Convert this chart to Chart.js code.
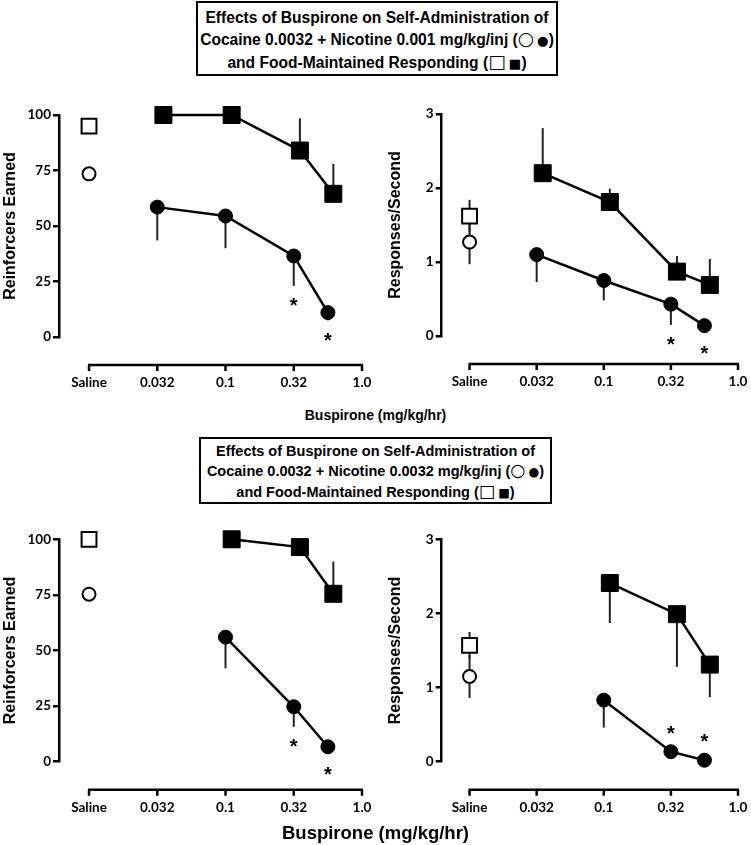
<!DOCTYPE html>
<html>
<head>
<meta charset="utf-8">
<script src="https://cdn.jsdelivr.net/npm/chart.js@4/dist/chart.umd.min.js"></script>
<style>
  body { margin: 0; background: #fff; }
  #page { position: relative; width: 751px; height: 845px; overflow: hidden; font-family: "Liberation Sans", Arial, sans-serif; color: #000; }
  canvas { position: absolute; }
  .box { position: absolute; box-sizing: border-box; border: 2px solid #000; text-align: center; font-weight: bold; white-space: nowrap; }
  .box .open { font-family: "DejaVu Sans", sans-serif; font-size: 1.2em; font-weight: bold; }
  .box .full { font-family: "DejaVu Sans", sans-serif; font-size: 0.85em; font-weight: normal; margin-left: 3px; }
  .xtitle { position: absolute; left: 0; width: 751px; text-align: center; font-weight: bold; white-space: nowrap; }
</style>
</head>
<body>
<div id="page">
  <div class="box" style="left:196px; top:1px; width:362px; height:75px; font-size:15.6px; line-height:21px; padding-top:3.5px;">
    Effects of Buspirone on Self-Administration of<br>
    Cocaine 0.0032 + Nicotine 0.001 mg/kg/inj (<span class="open">○</span><span class="full">●</span>)<br>
    and Food-Maintained Responding (<span class="open">□</span><span class="full">■</span>)
  </div>
  <canvas id="tl" width="375" height="310" style="left:0; top:95px;"></canvas>
  <canvas id="tr" width="376" height="310" style="left:375px; top:95px;"></canvas>
  <div class="xtitle" style="top:405px; height:20px; line-height:20px; font-size:14px;">Buspirone (mg/kg/hr)</div>

  <div class="box" style="left:199px; top:437px; width:353px; height:67px; font-size:14.5px; line-height:19px; padding-top:3px;">
    Effects of Buspirone on Self-Administration of<br>
    Cocaine 0.0032 + Nicotine 0.0032 mg/kg/inj (<span class="open">○</span><span class="full">●</span>)<br>
    and Food-Maintained Responding (<span class="open">□</span><span class="full">■</span>)
  </div>
  <canvas id="bl" width="375" height="310" style="left:0; top:520px;"></canvas>
  <canvas id="br" width="376" height="310" style="left:375px; top:520px;"></canvas>
  <div class="xtitle" style="top:820px; height:26px; line-height:26px; font-size:18.5px;">Buspirone (mg/kg/hr)</div>
</div>

<script>
// x axis: Saline = 0, then one unit per half log step (0.032 = 1, 0.1 = 2, 0.32 = 3, 1.0 = 4)
const xTickLabels = ['Saline', '0.032', '0.1', '0.32', '1.0'];

// cocaine 0.0032 + nicotine 0.001 (top row)
const topDrugX = [1, 2, 3, 3.5];
const topFoodX = [1.09, 2.09, 3.09, 3.58];
const topDrugReinf = [58.5, 54.5, 36.5, 11];
const topDrugReinfSem = [15, 14.5, 13.5, 3.5];
const topFoodReinf = [100, 100, 84, 64.5];
const topFoodReinfSem = [0, 0, 14.5, 13.5];
const topSalineReinf = [73.5, 95];       // [drug, food]
const topSalineReinfSem = [0, 0];
const topDrugRate = [1.1, 0.75, 0.43, 0.14];
const topDrugRateSem = [0.37, 0.27, 0.28, 0];
const topFoodRate = [2.2, 1.81, 0.87, 0.69];
const topFoodRateSem = [0.61, 0.18, 0.21, 0.35];
const topSalineRate = [1.27, 1.62];
const topSalineRateSem = [0.3, 0.22];
const topSig = [false, false, true, true];

// cocaine 0.0032 + nicotine 0.0032 (bottom row)
const bottomDrugX = [2, 3, 3.5];
const bottomFoodX = [2.09, 3.09, 3.58];
const bottomDrugReinf = [56, 24.7, 6.7];
const bottomDrugReinfSem = [14, 9, 0];
const bottomFoodReinf = [100, 96.5, 75.5];
const bottomFoodReinfSem = [0, 0, 14.5];
const bottomSalineReinf = [75.3, 100];
const bottomSalineReinfSem = [0, 0];
const bottomDrugRate = [0.83, 0.135, 0.02];
const bottomDrugRateSem = [0.37, 0, 0];
const bottomFoodRate = [2.41, 1.99, 1.31];
const bottomFoodRateSem = [0.54, 0.71, 0.44];
const bottomSalineRate = [1.15, 1.57];
const bottomSalineRateSem = [0.29, 0.18];
const bottomSig = [false, true, true];

const tickFont = { family: 'Lato, "Liberation Sans", sans-serif', weight: 'bold', size: 13.5 };
const titleFont = { family: '"Liberation Sans", Arial, sans-serif', weight: 'bold', size: 16 };

const pts = (xs, ys) => xs.map((x, i) => ({ x: x, y: ys[i] }));

// one-sided / two-sided sem bars, drawn under the markers
const errorBars = {
  id: 'errorBars',
  beforeDatasetsDraw(chart) {
    const { ctx, scales: { x, y } } = chart;
    ctx.save();
    ctx.strokeStyle = '#222';
    ctx.lineWidth = 2;
    chart.data.datasets.forEach(ds => {
      ds.data.forEach((p, i) => {
        const up = ds.errUp ? ds.errUp[i] : 0;
        const down = ds.errDown ? ds.errDown[i] : 0;
        if (!up && !down) return;
        const px = x.getPixelForValue(p.x);
        ctx.beginPath();
        ctx.moveTo(px, y.getPixelForValue(p.y + up));
        ctx.lineTo(px, y.getPixelForValue(p.y - down));
        ctx.stroke();
      });
    });
    ctx.restore();
  }
};

// asterisks for significant points
const stars = {
  id: 'stars',
  afterDatasetsDraw(chart) {
    const { ctx, scales: { x, y } } = chart;
    ctx.save();
    ctx.font = 'bold 20px "Liberation Sans", Arial, sans-serif';
    ctx.fillStyle = '#000';
    ctx.textAlign = 'center';
    ctx.textBaseline = 'alphabetic';
    chart.data.datasets.forEach(ds => {
      if (!ds.sig) return;
      ds.data.forEach((p, i) => {
        if (!ds.sig[i]) return;
        const px = x.getPixelForValue(p.x);
        const py = y.getPixelForValue(p.y);
        const down = ds.errDown ? ds.errDown[i] : 0;
        const cy = ds.starAbove ? py - 23 : Math.max(y.getPixelForValue(p.y - down), py + 8) + 15;
        ctx.fillText('*', px, cy + 11);
      });
    });
    ctx.restore();
  }
};

// detached x axis from Saline to 1.0
const xAxisLine = {
  id: 'xAxisLine',
  afterDraw(chart) {
    const { ctx, chartArea, scales: { x } } = chart;
    const yLine = chartArea.bottom + 28;
    ctx.save();
    ctx.strokeStyle = '#000';
    ctx.lineWidth = 2.5;
    ctx.beginPath();
    ctx.moveTo(x.getPixelForValue(0) - 1, yLine);
    ctx.lineTo(x.getPixelForValue(xTickLabels.length - 1) + 1, yLine);
    xTickLabels.forEach((_, i) => {
      const px = x.getPixelForValue(i);
      ctx.moveTo(px, yLine);
      ctx.lineTo(px, yLine + 6);
    });
    ctx.stroke();
    ctx.restore();
  }
};

function makePanel(id, p) {
  const ctx = document.getElementById(id).getContext('2d');
  return new Chart(ctx, {
    type: 'scatter',
    data: {
      datasets: [
        {
          data: pts(p.foodX, p.food), errUp: p.foodUp, errDown: p.foodDown,
          showLine: true, borderColor: '#000', borderWidth: 2.5,
          pointStyle: 'rect', pointRadius: 12, pointBackgroundColor: '#000',
          pointBorderColor: '#000', pointBorderWidth: 1, clip: false
        },
        {
          data: pts(p.drugX, p.drug), errDown: p.drugDown, sig: p.sig, starAbove: p.starAbove,
          showLine: true, borderColor: '#000', borderWidth: 2.5,
          pointStyle: 'circle', pointRadius: 7, pointBackgroundColor: '#000',
          pointBorderColor: '#000', pointBorderWidth: 1, clip: false
        },
        {
          data: [{ x: 0, y: p.saline[1] }], errUp: [p.salineSem[1]], errDown: [p.salineSem[1]],
          pointStyle: 'rect', pointRadius: 10.5, pointBackgroundColor: '#fff',
          pointBorderColor: '#000', pointBorderWidth: 2, clip: false
        },
        {
          data: [{ x: 0, y: p.saline[0] }], errUp: [p.salineSem[0]], errDown: [p.salineSem[0]],
          pointStyle: 'circle', pointRadius: 6.5, pointBackgroundColor: '#fff',
          pointBorderColor: '#000', pointBorderWidth: 2, clip: false
        }
      ]
    },
    options: {
      responsive: false,
      animation: false,
      devicePixelRatio: 1,
      layout: { padding: { top: p.padTop, right: p.padRight, left: 0, bottom: 0 } },
      plugins: { legend: { display: false }, tooltip: { enabled: false } },
      scales: {
        x: {
          type: 'linear', min: p.xMin, max: xTickLabels.length - 1,
          afterBuildTicks: s => { s.ticks = xTickLabels.map((_, i) => ({ value: i })); },
          afterFit: s => { s.height = p.xHeight; s.paddingLeft = 0; s.paddingRight = 0; },
          grid: { display: false, drawTicks: false },
          border: { display: false },
          ticks: {
            callback: v => xTickLabels[v], autoSkip: false, maxRotation: 0,
            padding: 38, font: tickFont, color: '#000'
          }
        },
        y: {
          type: 'linear', min: 0, max: p.yMax,
          afterFit: s => { s.width = p.yWidth; },
          grid: { drawOnChartArea: false, drawTicks: true, tickLength: 6, color: '#000', lineWidth: 2.5 },
          border: { display: true, color: '#000', width: 2.5 },
          ticks: { stepSize: p.yStep, padding: 2, font: tickFont, color: '#000' },
          title: { display: true, text: p.yTitle, font: titleFont, color: '#000', padding: { top: p.titlePad, bottom: 0 } }
        }
      }
    },
    plugins: [errorBars, stars, xAxisLine]
  });
}

const leftFrame = { padTop: 20, padRight: 13, yWidth: 59, xHeight: 68, xMin: -0.44, titlePad: 0.5 };
const rightFrame = { padTop: 19, padRight: 9.5, yWidth: 66.7, xHeight: 69, xMin: -0.415, titlePad: 11.4 };

makePanel('tl', Object.assign({}, leftFrame, {
  drugX: topDrugX, foodX: topFoodX,
  drug: topDrugReinf, drugDown: topDrugReinfSem,
  food: topFoodReinf, foodUp: topFoodReinfSem,
  saline: topSalineReinf, salineSem: topSalineReinfSem,
  sig: topSig, starAbove: false,
  yMax: 100, yStep: 25, yTitle: 'Reinforcers Earned'
}));

makePanel('tr', Object.assign({}, rightFrame, {
  drugX: topDrugX, foodX: topFoodX,
  drug: topDrugRate, drugDown: topDrugRateSem,
  food: topFoodRate, foodUp: topFoodRateSem,
  saline: topSalineRate, salineSem: topSalineRateSem,
  sig: topSig, starAbove: false,
  yMax: 3, yStep: 1, yTitle: 'Responses/Second'
}));

makePanel('bl', Object.assign({}, leftFrame, { padTop: 19.3, xHeight: 68.3 }, {
  drugX: bottomDrugX, foodX: bottomFoodX,
  drug: bottomDrugReinf, drugDown: bottomDrugReinfSem,
  food: bottomFoodReinf, foodUp: bottomFoodReinfSem,
  saline: bottomSalineReinf, salineSem: bottomSalineReinfSem,
  sig: bottomSig, starAbove: false,
  yMax: 100, yStep: 25, yTitle: 'Reinforcers Earned'
}));

makePanel('br', Object.assign({}, rightFrame, { padTop: 19.3, xHeight: 68.3 }, {
  drugX: bottomDrugX, foodX: bottomFoodX,
  drug: bottomDrugRate, drugDown: bottomDrugRateSem,
  food: bottomFoodRate, foodDown: bottomFoodRateSem,
  saline: bottomSalineRate, salineSem: bottomSalineRateSem,
  sig: bottomSig, starAbove: true,
  yMax: 3, yStep: 1, yTitle: 'Responses/Second'
}));
</script>
</body>
</html>
